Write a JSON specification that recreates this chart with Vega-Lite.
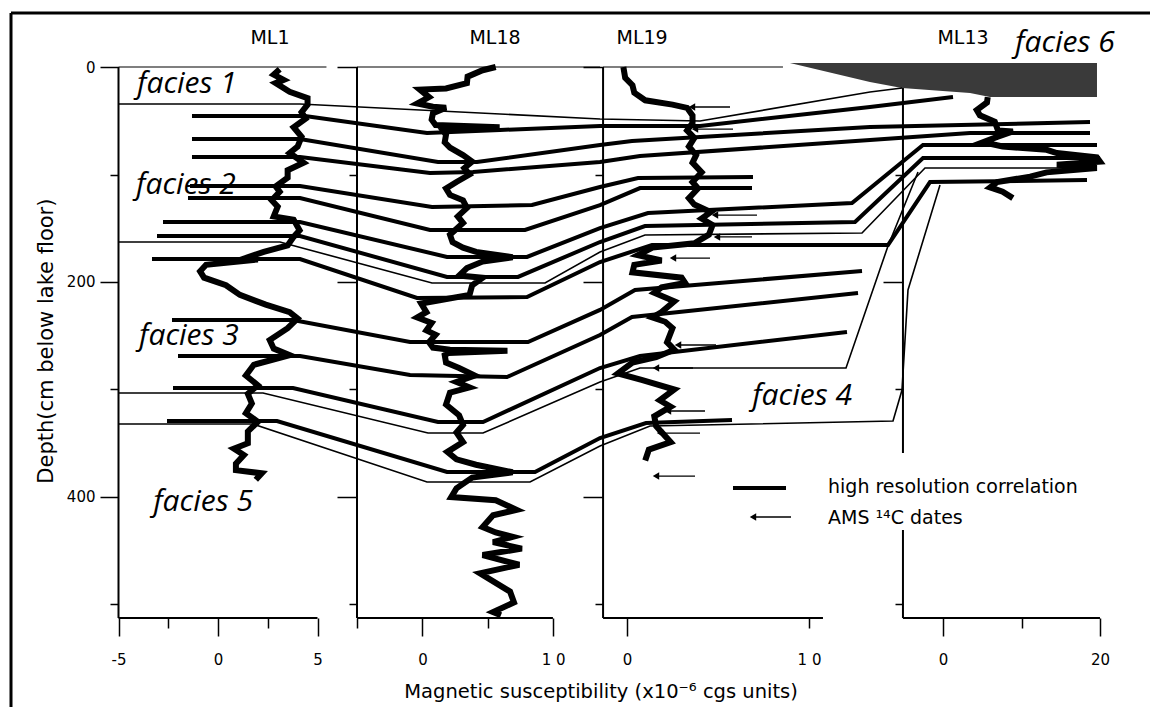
{
  "$schema": "https://vega.github.io/schema/vega-lite/v6.json",
  "width": 1139,
  "height": 694,
  "autosize": "none",
  "padding": {"left": 11, "top": 13, "right": 0, "bottom": 0},
  "background": "white",
  "config": {
    "view": {"stroke": "black", "strokeWidth": 3, "strokeDash": [1139, 1833, 694, 0]},
    "axis": {"grid": false, "domain": false, "tickColor": "black", "tickWidth": 1.5, "labelColor": "black", "labelFont": "DejaVu Sans", "labelFontSize": 15, "labelOverlap": false, "labelFlush": false},
    "text": {"font": "DejaVu Sans", "color": "black"}
  },
  "datasets": {
    "ml1": [
      {"depth":2,"chi":3.1},{"depth":7,"chi":2.8},{"depth":12,"chi":3.3},{"depth":15,"chi":2.9},{"depth":23,"chi":3.6},{"depth":29,"chi":4.5},{"depth":35,"chi":4.5},{"depth":42,"chi":4.2},{"depth":48,"chi":4.4},{"depth":56,"chi":3.8},{"depth":65,"chi":4.2},{"depth":74,"chi":4.0},{"depth":80,"chi":3.6},{"depth":89,"chi":4.3},{"depth":96,"chi":3.5},{"depth":103,"chi":3.5},{"depth":111,"chi":2.9},{"depth":116,"chi":3.1},{"depth":124,"chi":2.7},{"depth":130,"chi":3.0},{"depth":139,"chi":2.8},{"depth":142,"chi":3.8},{"depth":152,"chi":4.1},{"depth":158,"chi":3.8},{"depth":166,"chi":3.5},{"depth":172,"chi":2.3},{"depth":177,"chi":1.5},{"depth":179,"chi":2.0},{"depth":184,"chi":-0.6},{"depth":190,"chi":-0.9},{"depth":196,"chi":-0.7},{"depth":203,"chi":0.4},{"depth":212,"chi":1.1},{"depth":221,"chi":2.4},{"depth":228,"chi":3.6},{"depth":234,"chi":4.0},{"depth":243,"chi":3.5},{"depth":254,"chi":2.6},{"depth":262,"chi":2.8},{"depth":268,"chi":3.6},{"depth":277,"chi":1.8},{"depth":287,"chi":1.4},{"depth":296,"chi":2.0},{"depth":304,"chi":1.5},{"depth":313,"chi":1.7},{"depth":322,"chi":1.4},{"depth":330,"chi":2.0},{"depth":339,"chi":1.5},{"depth":350,"chi":1.5},{"depth":355,"chi":0.8},{"depth":361,"chi":1.3},{"depth":369,"chi":0.9},{"depth":375,"chi":0.9},{"depth":378,"chi":2.2},{"depth":384,"chi":1.9}
    ],
    "ml18": [
      {"depth":0,"chi":5.6},{"depth":3,"chi":4.6},{"depth":9,"chi":3.45},{"depth":15,"chi":3.4},{"depth":20,"chi":1.8},{"depth":21,"chi":-0.2},{"depth":28,"chi":0.5},{"depth":34,"chi":-0.4},{"depth":37,"chi":0.8},{"depth":38,"chi":1.8},{"depth":43,"chi":0.8},{"depth":49,"chi":0.7},{"depth":54,"chi":1.0},{"depth":56,"chi":5.9},{"depth":58,"chi":1.5},{"depth":63,"chi":1.8},{"depth":70,"chi":1.7},{"depth":75,"chi":2.1},{"depth":82,"chi":3.1},{"depth":88,"chi":3.8},{"depth":94,"chi":3.2},{"depth":100,"chi":3.6},{"depth":107,"chi":2.6},{"depth":113,"chi":1.8},{"depth":119,"chi":2.1},{"depth":124,"chi":3.1},{"depth":131,"chi":3.4},{"depth":139,"chi":2.7},{"depth":145,"chi":3.1},{"depth":156,"chi":2.1},{"depth":163,"chi":2.3},{"depth":168,"chi":3.1},{"depth":172,"chi":4.1},{"depth":177,"chi":6.9},{"depth":181,"chi":4.6},{"depth":187,"chi":3.4},{"depth":194,"chi":2.8},{"depth":196,"chi":4.6},{"depth":203,"chi":3.8},{"depth":212,"chi":3.6},{"depth":217,"chi":1.3},{"depth":220,"chi":-0.1},{"depth":228,"chi":0.3},{"depth":233,"chi":-0.4},{"depth":238,"chi":0.7},{"depth":245,"chi":0.3},{"depth":249,"chi":1.0},{"depth":256,"chi":0.5},{"depth":261,"chi":0.8},{"depth":263,"chi":2.1},{"depth":264,"chi":6.5},{"depth":266,"chi":2.0},{"depth":268,"chi":1.7},{"depth":275,"chi":1.8},{"depth":280,"chi":2.8},{"depth":287,"chi":4.0},{"depth":293,"chi":2.6},{"depth":298,"chi":3.6},{"depth":303,"chi":2.1},{"depth":314,"chi":1.8},{"depth":324,"chi":2.8},{"depth":333,"chi":3.1},{"depth":340,"chi":2.6},{"depth":349,"chi":3.1},{"depth":358,"chi":1.9},{"depth":365,"chi":2.6},{"depth":370,"chi":4.1},{"depth":377,"chi":6.9},{"depth":382,"chi":3.8},{"depth":392,"chi":2.6},{"depth":400,"chi":2.2},{"depth":403,"chi":5.6},{"depth":412,"chi":7.2},{"depth":417,"chi":5.4},{"depth":428,"chi":4.6},{"depth":433,"chi":5.6},{"depth":437,"chi":6.9},{"depth":442,"chi":5.4},{"depth":448,"chi":7.6},{"depth":454,"chi":4.6},{"depth":463,"chi":7.4},{"depth":471,"chi":4.4},{"depth":488,"chi":6.7},{"depth":498,"chi":7.0},{"depth":507,"chi":5.4},{"depth":510,"chi":6.0}
    ],
    "ml19": [
      {"depth":0,"chi":-0.2},{"depth":10,"chi":-0.1},{"depth":17,"chi":0.3},{"depth":24,"chi":0.4},{"depth":31,"chi":1.0},{"depth":35,"chi":2.5},{"depth":38,"chi":3.3},{"depth":45,"chi":3.6},{"depth":52,"chi":3.6},{"depth":59,"chi":3.3},{"depth":66,"chi":3.7},{"depth":74,"chi":3.4},{"depth":82,"chi":3.8},{"depth":89,"chi":3.6},{"depth":98,"chi":4.1},{"depth":107,"chi":3.6},{"depth":113,"chi":3.9},{"depth":122,"chi":3.4},{"depth":128,"chi":3.7},{"depth":135,"chi":4.6},{"depth":141,"chi":4.1},{"depth":147,"chi":4.7},{"depth":156,"chi":4.5},{"depth":164,"chi":3.7},{"depth":168,"chi":1.4},{"depth":175,"chi":0.6},{"depth":180,"chi":1.9},{"depth":184,"chi":0.4},{"depth":191,"chi":0.3},{"depth":196,"chi":3.0},{"depth":201,"chi":3.2},{"depth":205,"chi":1.9},{"depth":210,"chi":1.5},{"depth":218,"chi":2.6},{"depth":228,"chi":1.9},{"depth":233,"chi":1.4},{"depth":237,"chi":2.1},{"depth":243,"chi":2.5},{"depth":256,"chi":2.2},{"depth":263,"chi":2.6},{"depth":270,"chi":1.6},{"depth":275,"chi":0.3},{"depth":285,"chi":-0.5},{"depth":291,"chi":0.8},{"depth":300,"chi":2.6},{"depth":310,"chi":1.8},{"depth":316,"chi":2.4},{"depth":325,"chi":1.5},{"depth":334,"chi":1.6},{"depth":349,"chi":2.4},{"depth":356,"chi":1.2},{"depth":366,"chi":1.0}
    ],
    "ml13": [
      {"depth":28,"chi":5.7},{"depth":33,"chi":5.6},{"depth":40,"chi":4.3},{"depth":45,"chi":4.7},{"depth":51,"chi":6.6},{"depth":59,"chi":7.0},{"depth":60,"chi":8.9},{"depth":65,"chi":6.9},{"depth":70,"chi":5.1},{"depth":74,"chi":7.6},{"depth":77,"chi":13.2},{"depth":80,"chi":14.5},{"depth":84,"chi":19.6},{"depth":88,"chi":20.0},{"depth":91,"chi":14.5},{"depth":94,"chi":19.6},{"depth":98,"chi":13.2},{"depth":102,"chi":11.1},{"depth":107,"chi":6.9},{"depth":112,"chi":6.0},{"depth":116,"chi":7.6},{"depth":122,"chi":8.9}
    ],
    "corr": [
      {"id":"L1","kind":"thin","i":0,"g":-5,"d":34.4},{"id":"L1","kind":"thin","i":1,"g":4.121,"d":34.4},{"id":"L1","kind":"thin","i":2,"g":19.196,"d":48.4},{"id":"L1","kind":"thin","i":3,"g":24.221,"d":50.2},{"id":"L1","kind":"thin","i":4,"g":32.764,"d":23.3},{"id":"L1","kind":"thin","i":5,"g":34.372,"d":19.5},
      {"id":"L2","kind":"thick","i":0,"g":-1.307,"d":45.6},{"id":"L2","kind":"thick","i":1,"g":4.372,"d":45.6},{"id":"L2","kind":"thick","i":2,"g":10.503,"d":61.4},{"id":"L2","kind":"thick","i":3,"g":14.171,"d":58.6},{"id":"L2","kind":"thick","i":4,"g":19.196,"d":54.9},{"id":"L2","kind":"thick","i":5,"g":24.221,"d":54.9},{"id":"L2","kind":"thick","i":6,"g":32.764,"d":37.2},{"id":"L2","kind":"thick","i":7,"g":36.935,"d":27.9},
      {"id":"L3","kind":"thick","i":0,"g":-1.307,"d":67.0},{"id":"L3","kind":"thick","i":1,"g":4.121,"d":67.0},{"id":"L3","kind":"thick","i":2,"g":11.055,"d":88.4},{"id":"L3","kind":"thick","i":3,"g":13.015,"d":88.4},{"id":"L3","kind":"thick","i":4,"g":19.196,"d":72.6},{"id":"L3","kind":"thick","i":5,"g":20.804,"d":68.8},{"id":"L3","kind":"thick","i":6,"g":32.764,"d":55.8},{"id":"L3","kind":"thick","i":7,"g":43.819,"d":51.2},
      {"id":"L4","kind":"thick","i":0,"g":-1.307,"d":83.7},{"id":"L4","kind":"thick","i":1,"g":4.121,"d":83.7},{"id":"L4","kind":"thick","i":2,"g":10.653,"d":98.6},{"id":"L4","kind":"thick","i":3,"g":12.814,"d":97.7},{"id":"L4","kind":"thick","i":4,"g":19.196,"d":88.4},{"id":"L4","kind":"thick","i":5,"g":21.206,"d":82.8},{"id":"L4","kind":"thick","i":6,"g":32.764,"d":67.9},{"id":"L4","kind":"thick","i":7,"g":37.789,"d":61.4},{"id":"L4","kind":"thick","i":8,"g":43.819,"d":61.4},
      {"id":"L5","kind":"thick","i":0,"g":-1.407,"d":110.7},{"id":"L5","kind":"thick","i":1,"g":4.121,"d":110.7},{"id":"L5","kind":"thick","i":2,"g":10.754,"d":130.2},{"id":"L5","kind":"thick","i":3,"g":15.779,"d":128.4},{"id":"L5","kind":"thick","i":4,"g":19.196,"d":111.6},{"id":"L5","kind":"thick","i":5,"g":21.106,"d":103.3},{"id":"L5","kind":"thick","i":6,"g":26.884,"d":102.3},
      {"id":"L6","kind":"thick","i":0,"g":-1.508,"d":121.9},{"id":"L6","kind":"thick","i":1,"g":4.121,"d":121.9},{"id":"L6","kind":"thick","i":2,"g":10.653,"d":151.6},{"id":"L6","kind":"thick","i":3,"g":15.427,"d":151.6},{"id":"L6","kind":"thick","i":4,"g":19.196,"d":128.4},{"id":"L6","kind":"thick","i":5,"g":21.206,"d":112.6},{"id":"L6","kind":"thick","i":6,"g":26.834,"d":112.6},
      {"id":"L7","kind":"thick","i":0,"g":-2.764,"d":144.2},{"id":"L7","kind":"thick","i":1,"g":4.121,"d":144.2},{"id":"L7","kind":"thick","i":2,"g":11.508,"d":176.7},{"id":"L7","kind":"thick","i":3,"g":15.528,"d":176.7},{"id":"L7","kind":"thick","i":4,"g":19.196,"d":149.8},{"id":"L7","kind":"thick","i":5,"g":21.608,"d":135.8},{"id":"L7","kind":"thick","i":6,"g":31.859,"d":126.5},{"id":"L7","kind":"thick","i":7,"g":35.427,"d":72.6},{"id":"L7","kind":"thick","i":8,"g":44.171,"d":72.6},
      {"id":"L8","kind":"thick","i":0,"g":-3.065,"d":157.2},{"id":"L8","kind":"thick","i":1,"g":4.121,"d":157.2},{"id":"L8","kind":"thick","i":2,"g":11.508,"d":195.3},{"id":"L8","kind":"thick","i":3,"g":15.075,"d":195.3},{"id":"L8","kind":"thick","i":4,"g":19.196,"d":162.8},{"id":"L8","kind":"thick","i":5,"g":21.457,"d":147.9},{"id":"L8","kind":"thick","i":6,"g":32.01,"d":144.2},{"id":"L8","kind":"thick","i":7,"g":35.427,"d":84.7},{"id":"L8","kind":"thick","i":8,"g":44.322,"d":84.7},
      {"id":"L9","kind":"thin","i":0,"g":-5,"d":162.8},{"id":"L9","kind":"thin","i":1,"g":3.116,"d":162.8},{"id":"L9","kind":"thin","i":2,"g":10.754,"d":200.9},{"id":"L9","kind":"thin","i":3,"g":16.432,"d":200.9},{"id":"L9","kind":"thin","i":4,"g":19.196,"d":172.1},{"id":"L9","kind":"thin","i":5,"g":21.457,"d":156.3},{"id":"L9","kind":"thin","i":6,"g":32.362,"d":154.4},{"id":"L9","kind":"thin","i":7,"g":35.528,"d":94.0},{"id":"L9","kind":"thin","i":8,"g":44.171,"d":94.0},
      {"id":"L10","kind":"thick","i":0,"g":-3.317,"d":178.6},{"id":"L10","kind":"thick","i":1,"g":4.121,"d":178.6},{"id":"L10","kind":"thick","i":2,"g":10.0,"d":214.9},{"id":"L10","kind":"thick","i":3,"g":15.528,"d":214.0},{"id":"L10","kind":"thick","i":4,"g":19.196,"d":181.4},{"id":"L10","kind":"thick","i":5,"g":21.809,"d":165.6},{"id":"L10","kind":"thick","i":6,"g":33.668,"d":165.6},{"id":"L10","kind":"thick","i":7,"g":35.779,"d":107.0},{"id":"L10","kind":"thick","i":8,"g":43.668,"d":105.1},
      {"id":"L11","kind":"thick","i":0,"g":-2.312,"d":235.3},{"id":"L11","kind":"thick","i":1,"g":3.769,"d":235.3},{"id":"L11","kind":"thick","i":2,"g":9.648,"d":255.8},{"id":"L11","kind":"thick","i":3,"g":15.578,"d":255.8},{"id":"L11","kind":"thick","i":4,"g":19.196,"d":226.0},{"id":"L11","kind":"thick","i":5,"g":20.955,"d":207.4},{"id":"L11","kind":"thick","i":6,"g":32.362,"d":189.8},
      {"id":"L12","kind":"thick","i":0,"g":-2.01,"d":268.8},{"id":"L12","kind":"thick","i":1,"g":4.121,"d":268.8},{"id":"L12","kind":"thick","i":2,"g":9.648,"d":286.5},{"id":"L12","kind":"thick","i":3,"g":14.523,"d":288.4},{"id":"L12","kind":"thick","i":4,"g":19.196,"d":249.3},{"id":"L12","kind":"thick","i":5,"g":20.804,"d":232.6},{"id":"L12","kind":"thick","i":6,"g":32.161,"d":210.2},
      {"id":"L13","kind":"thick","i":0,"g":-2.261,"d":298.6},{"id":"L13","kind":"thick","i":1,"g":3.769,"d":298.6},{"id":"L13","kind":"thick","i":2,"g":11.055,"d":330.2},{"id":"L13","kind":"thick","i":3,"g":13.317,"d":330.2},{"id":"L13","kind":"thick","i":4,"g":19.196,"d":280.0},{"id":"L13","kind":"thick","i":5,"g":21.206,"d":268.8},{"id":"L13","kind":"thick","i":6,"g":31.608,"d":246.5},
      {"id":"L14","kind":"thin","i":0,"g":-5,"d":303.3},{"id":"L14","kind":"thin","i":1,"g":2.261,"d":303.3},{"id":"L14","kind":"thin","i":2,"g":10.553,"d":340.5},{"id":"L14","kind":"thin","i":3,"g":13.317,"d":340.5},{"id":"L14","kind":"thin","i":4,"g":19.196,"d":293.0},{"id":"L14","kind":"thin","i":5,"g":21.206,"d":280.0},{"id":"L14","kind":"thin","i":6,"g":31.558,"d":280.0},{"id":"L14","kind":"thin","i":7,"g":33.668,"d":166.5},{"id":"L14","kind":"thin","i":8,"g":35.176,"d":97.7},
      {"id":"L15","kind":"thick","i":0,"g":-2.563,"d":329.3},{"id":"L15","kind":"thick","i":1,"g":2.965,"d":329.3},{"id":"L15","kind":"thick","i":2,"g":11.508,"d":376.7},{"id":"L15","kind":"thick","i":3,"g":15.93,"d":376.7},{"id":"L15","kind":"thick","i":4,"g":19.196,"d":345.1},{"id":"L15","kind":"thick","i":5,"g":21.508,"d":331.2},{"id":"L15","kind":"thick","i":6,"g":25.829,"d":328.4},
      {"id":"L16","kind":"thin","i":0,"g":-5,"d":332.1},{"id":"L16","kind":"thin","i":1,"g":1.759,"d":332.1},{"id":"L16","kind":"thin","i":2,"g":10.503,"d":386.0},{"id":"L16","kind":"thin","i":3,"g":15.678,"d":386.0},{"id":"L16","kind":"thin","i":4,"g":19.196,"d":352.6},{"id":"L16","kind":"thin","i":5,"g":21.709,"d":334.0},{"id":"L16","kind":"thin","i":6,"g":33.92,"d":329.3},{"id":"L16","kind":"thin","i":7,"g":34.372,"d":300.5},{"id":"L16","kind":"thin","i":8,"g":34.673,"d":207.4},{"id":"L16","kind":"thin","i":9,"g":36.281,"d":109.8},
      {"id":"legend","kind":"thick","i":0,"g":25.879,"d":391.6},{"id":"legend","kind":"thick","i":1,"g":28.543,"d":391.6}
    ],
    "arrows": [
      {"head":23.819,"tail":25.729,"d":37.2},{"head":23.97,"tail":25.88,"d":57.7},{"head":24.975,"tail":27.085,"d":137.7},{"head":25.075,"tail":26.834,"d":158.1},{"head":22.864,"tail":24.724,"d":177.7},{"head":23.116,"tail":25.025,"d":258.6},{"head":22.01,"tail":23.869,"d":280.0},{"head":22.613,"tail":24.472,"d":320.0},{"head":22.211,"tail":24.221,"d":340.5},{"head":22.01,"tail":23.97,"d":380.5},{"head":26.884,"tail":28.794,"d":418.6}
    ],
    "frames": [
      {"x":-5,"x2":-5,"y":0,"y2":512.6},{"x":-5,"x2":5,"y":512.6,"y2":512.6},
      {"x":6.985,"x2":6.985,"y":0,"y2":512.6},{"x":6.985,"x2":16.83,"y":512.6,"y2":512.6},
      {"x":19.35,"x2":19.35,"y":0,"y2":512.6},{"x":19.35,"x2":30.4,"y":512.6,"y2":512.6},
      {"x":34.42,"x2":34.42,"y":-3,"y2":359},{"x":34.42,"x2":34.42,"y":430.7,"y2":512.6},{"x":34.42,"x2":44.32,"y":512.6,"y2":512.6}
    ],
    "tops": [
      {"x":-5,"x2":5.45,"y":0,"y2":0},{"x":6.985,"x2":19.2,"y":0,"y2":0},{"x":19.35,"x2":28.39,"y":0,"y2":0}
    ],
    "shade": [
      {"g":28.74,"top":-3.7,"bottom":-3.7},{"g":32.76,"top":-3.7,"bottom":14},{"g":34.37,"top":-3.7,"bottom":19.5},{"g":37.79,"top":-3.7,"bottom":24.2},{"g":38.79,"top":-3.7,"bottom":28},{"g":44.17,"top":-3.7,"bottom":28}
    ],
    "panels": [
      {"t":"ML1","g":2.61,"d":-27},{"t":"ML18","g":13.92,"d":-27},{"t":"ML19","g":21.31,"d":-27},{"t":"ML13","g":37.44,"d":-27}
    ],
    "facies": [
      {"t":"facies 1","g":-1.56,"d":15.8},{"t":"facies 2","g":-1.61,"d":110},{"t":"facies 3","g":-1.46,"d":250},{"t":"facies 5","g":-0.75,"d":404.7},{"t":"facies 4","g":29.35,"d":306},{"t":"facies 6","g":42.56,"d":-22.3}
    ],
    "legendtext": [
      {"t":"high resolution correlation","g":30.653,"d":390.7},{"t":"AMS ¹⁴C dates","g":30.653,"d":419.5}
    ],
    "ytitle": [{"t":"Depth(cm below lake floor)","g":-8.59,"d":255}],
    "xtitle": [{"t":"Magnetic susceptibility (x10⁻⁶ cgs units)","g":19.25,"d":581.4}]
  },
  "layer": [
    {
      "data": {"name": "frames"},
      "mark": {"type": "rule", "color": "black", "strokeWidth": 2},
      "encoding": {
        "x": {"field": "x", "type": "quantitative", "scale": {"domain": [-10.402, 46.834], "nice": false, "zero": false}, "axis": null},
        "x2": {"field": "x2"},
        "y": {"field": "y", "type": "quantitative", "scale": {"domain": [-50.233, 595.35], "reverse": true, "nice": false, "zero": false}, "axis": null},
        "y2": {"field": "y2"}
      }
    },
    {
      "data": {"name": "shade"},
      "mark": {"type": "area", "color": "#3a3a3a"},
      "encoding": {
        "x": {"field": "g", "type": "quantitative", "scale": {"domain": [-10.402, 46.834], "nice": false, "zero": false}, "axis": null},
        "y": {"field": "top", "type": "quantitative", "scale": {"domain": [-50.233, 595.35], "reverse": true, "nice": false, "zero": false}, "axis": null},
        "y2": {"field": "bottom"}
      }
    },
    {
      "data": {"name": "tops"},
      "mark": {"type": "rule", "color": "black", "strokeWidth": 1.2},
      "encoding": {
        "x": {"field": "x", "type": "quantitative", "scale": {"domain": [-10.402, 46.834], "nice": false, "zero": false}, "axis": null},
        "x2": {"field": "x2"},
        "y": {"field": "y", "type": "quantitative", "scale": {"domain": [-50.233, 595.35], "reverse": true, "nice": false, "zero": false}, "axis": null},
        "y2": {"field": "y2"}
      }
    },
    {
      "data": {"name": "corr"},
      "mark": {"type": "line", "color": "black", "strokeJoin": "miter"},
      "encoding": {
        "x": {"field": "g", "type": "quantitative", "scale": {"domain": [-10.402, 46.834], "nice": false, "zero": false}, "axis": null},
        "y": {"field": "d", "type": "quantitative", "scale": {"domain": [-50.233, 595.35], "reverse": true, "nice": false, "zero": false}, "axis": null},
        "detail": {"field": "id", "type": "nominal"},
        "order": {"field": "i", "type": "quantitative"},
        "strokeWidth": {"field": "kind", "type": "nominal", "scale": {"domain": ["thick", "thin"], "range": [4, 1.6]}, "legend": null}
      }
    },
    {
      "data": {"name": "arrows"},
      "mark": {"type": "rule", "color": "black", "strokeWidth": 1.3},
      "encoding": {
        "x": {"field": "head", "type": "quantitative", "scale": {"domain": [-10.402, 46.834], "nice": false, "zero": false}, "axis": null},
        "x2": {"field": "tail"},
        "y": {"field": "d", "type": "quantitative", "scale": {"domain": [-50.233, 595.35], "reverse": true, "nice": false, "zero": false}, "axis": null}
      }
    },
    {
      "data": {"name": "arrows"},
      "mark": {"type": "point", "shape": "triangle-left", "filled": true, "color": "black", "size": 55, "opacity": 1},
      "encoding": {
        "x": {"field": "head", "type": "quantitative", "scale": {"domain": [-10.402, 46.834], "nice": false, "zero": false}, "axis": null},
        "y": {"field": "d", "type": "quantitative", "scale": {"domain": [-50.233, 595.35], "reverse": true, "nice": false, "zero": false}, "axis": null}
      }
    },
    {
      "data": {"name": "ml1"},
      "mark": {"type": "line", "color": "black", "strokeWidth": 6, "strokeJoin": "miter"},
      "encoding": {
        "x": {"field": "chi", "type": "quantitative", "scale": {"domain": [-10.402, 46.834], "nice": false, "zero": false},
          "axis": {"orient": "bottom", "offset": -89, "values": [-5, -2.5, 0, 2.5, 5], "title": null, "tickSize": 18, "labelPadding": 16,
            "labelExpr": "datum.value === -5 ? '-5' : datum.value === 0 ? '0' : datum.value === 5 ? '5' : ''",
            "tickDash": {"condition": {"test": "datum.value === -2.5 || datum.value === 2.5", "value": [10, 40]}, "value": [100, 0]}}},
        "y": {"field": "depth", "type": "quantitative", "scale": {"domain": [-50.233, 595.35], "reverse": true, "nice": false, "zero": false},
          "axis": {"orient": "left", "offset": -107, "values": [0, 100, 200, 300, 400, 500], "title": null, "tickSize": 18, "labelPadding": 5,
            "labelExpr": "datum.value % 200 === 0 ? '' + datum.value : ''",
            "tickDash": {"condition": {"test": "datum.value % 200 !== 0", "value": [8, 40]}, "value": [100, 0]}}},
        "order": {"field": "depth", "type": "quantitative"}
      }
    },
    {
      "data": {"name": "ml18"},
      "mark": {"type": "line", "color": "black", "strokeWidth": 6, "strokeJoin": "miter"},
      "encoding": {
        "x": {"field": "chi", "type": "quantitative", "scale": {"domain": [-31.484, 55.662], "nice": false, "zero": false},
          "axis": {"orient": "bottom", "offset": -89, "values": [-5, 0, 5, 10], "title": null, "tickSize": 18, "labelPadding": 16,
            "labelExpr": "datum.value === 0 ? '0' : datum.value === 10 ? '1 0' : ''",
            "tickDash": {"condition": {"test": "datum.value === -5 || datum.value === 5", "value": [10, 40]}, "value": [100, 0]}}},
        "y": {"field": "depth", "type": "quantitative", "scale": {"domain": [-50.233, 595.35], "reverse": true, "nice": false, "zero": false},
          "axis": {"orient": "left", "offset": -346, "values": [0, 100, 200, 300, 400, 500], "title": null, "tickSize": 20, "labels": false,
            "tickDash": {"condition": {"test": "datum.value % 200 !== 0", "value": [8, 40]}, "value": [100, 0]}}},
        "order": {"field": "depth", "type": "quantitative"}
      }
    },
    {
      "data": {"name": "ml19"},
      "mark": {"type": "line", "color": "black", "strokeWidth": 6, "strokeJoin": "miter"},
      "encoding": {
        "x": {"field": "chi", "type": "quantitative", "scale": {"domain": [-33.846, 28.736], "nice": false, "zero": false},
          "axis": {"orient": "bottom", "offset": -89, "values": [0, 10], "title": null, "tickSize": 18, "labelPadding": 16,
            "labelExpr": "datum.value === 0 ? '0' : '1 0'",
            "tickDash": {"condition": {"test": "datum.value === 10", "value": [10, 40]}, "value": [100, 0]}}},
        "y": {"field": "depth", "type": "quantitative", "scale": {"domain": [-50.233, 595.35], "reverse": true, "nice": false, "zero": false},
          "axis": {"orient": "left", "offset": -592, "values": [0, 100, 200, 300, 400, 500], "title": null, "tickSize": 20, "labels": false,
            "tickDash": {"condition": {"test": "datum.value % 200 !== 0", "value": [8, 40]}, "value": [100, 0]}}},
        "order": {"field": "depth", "type": "quantitative"}
      }
    },
    {
      "data": {"name": "ml13"},
      "mark": {"type": "line", "color": "black", "strokeWidth": 6, "strokeJoin": "miter"},
      "encoding": {
        "x": {"field": "chi", "type": "quantitative", "scale": {"domain": [-118.726, 26.369], "nice": false, "zero": false},
          "axis": {"orient": "bottom", "offset": -89, "values": [0, 10, 20], "title": null, "tickSize": 18, "labelPadding": 16,
            "labelExpr": "datum.value === 0 ? '0' : datum.value === 20 ? '20' : ''",
            "tickDash": {"condition": {"test": "datum.value === 10", "value": [10, 40]}, "value": [100, 0]}}},
        "y": {"field": "depth", "type": "quantitative", "scale": {"domain": [-50.233, 595.35], "reverse": true, "nice": false, "zero": false},
          "axis": {"orient": "left", "offset": -892, "values": [100, 200, 300, 500], "title": null, "tickSize": 20, "labels": false,
            "tickDash": {"condition": {"test": "datum.value % 200 !== 0", "value": [8, 40]}, "value": [100, 0]}}},
        "order": {"field": "depth", "type": "quantitative"}
      }
    },
    {
      "data": {"name": "panels"},
      "mark": {"type": "text", "font": "DejaVu Sans", "fontSize": 19, "align": "center", "baseline": "middle", "color": "black"},
      "encoding": {
        "x": {"field": "g", "type": "quantitative", "scale": {"domain": [-10.402, 46.834], "nice": false, "zero": false}, "axis": null},
        "y": {"field": "d", "type": "quantitative", "scale": {"domain": [-50.233, 595.35], "reverse": true, "nice": false, "zero": false}, "axis": null},
        "text": {"field": "t"}
      }
    },
    {
      "data": {"name": "facies"},
      "mark": {"type": "text", "font": "Open Sans", "fontStyle": "italic", "fontSize": 30, "align": "center", "baseline": "middle", "color": "black"},
      "encoding": {
        "x": {"field": "g", "type": "quantitative", "scale": {"domain": [-10.402, 46.834], "nice": false, "zero": false}, "axis": null},
        "y": {"field": "d", "type": "quantitative", "scale": {"domain": [-50.233, 595.35], "reverse": true, "nice": false, "zero": false}, "axis": null},
        "text": {"field": "t"}
      }
    },
    {
      "data": {"name": "legendtext"},
      "mark": {"type": "text", "font": "DejaVu Sans", "fontSize": 19, "align": "left", "baseline": "middle", "color": "black"},
      "encoding": {
        "x": {"field": "g", "type": "quantitative", "scale": {"domain": [-10.402, 46.834], "nice": false, "zero": false}, "axis": null},
        "y": {"field": "d", "type": "quantitative", "scale": {"domain": [-50.233, 595.35], "reverse": true, "nice": false, "zero": false}, "axis": null},
        "text": {"field": "t"}
      }
    },
    {
      "data": {"name": "ytitle"},
      "mark": {"type": "text", "font": "DejaVu Sans", "fontSize": 21, "align": "center", "baseline": "middle", "angle": 270, "color": "black"},
      "encoding": {
        "x": {"field": "g", "type": "quantitative", "scale": {"domain": [-10.402, 46.834], "nice": false, "zero": false}, "axis": null},
        "y": {"field": "d", "type": "quantitative", "scale": {"domain": [-50.233, 595.35], "reverse": true, "nice": false, "zero": false}, "axis": null},
        "text": {"field": "t"}
      }
    },
    {
      "data": {"name": "xtitle"},
      "mark": {"type": "text", "font": "DejaVu Sans", "fontSize": 19.5, "align": "center", "baseline": "middle", "color": "black"},
      "encoding": {
        "x": {"field": "g", "type": "quantitative", "scale": {"domain": [-10.402, 46.834], "nice": false, "zero": false}, "axis": null},
        "y": {"field": "d", "type": "quantitative", "scale": {"domain": [-50.233, 595.35], "reverse": true, "nice": false, "zero": false}, "axis": null},
        "text": {"field": "t"}
      }
    }
  ],
  "resolve": {
    "scale": {"x": "independent", "y": "independent", "strokeWidth": "independent"},
    "axis": {"x": "independent", "y": "independent"}
  }
}
